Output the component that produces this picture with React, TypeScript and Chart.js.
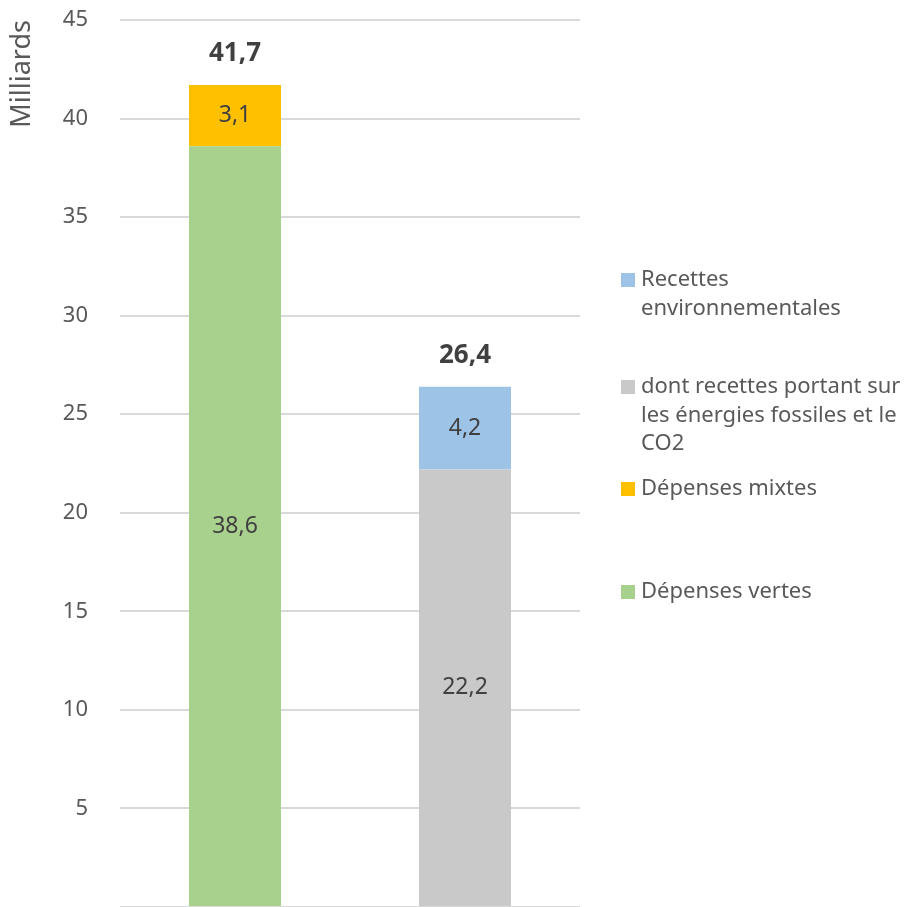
import { useEffect, useRef } from "react";
import { Chart, registerables } from "chart.js";

Chart.register(...registerables);

const categories = ["Dépenses", "Recettes"];
const depensesVertes = [38.6, null];
const depensesMixtes = [3.1, null];
const recettesFossiles = [null, 22.2];
const recettesEnv = [null, 4.2];
const yMax = 45;
const yStep = 5;
const axisTitle = "Milliards";

const legendEntries = [
  { color: "#9DC3E6", lines: ["Recettes", "environnementales"] },
  { color: "#C9C9C9", lines: ["dont recettes portant sur", "les énergies fossiles et le", "CO2"] },
  { color: "#FFC000", lines: ["Dépenses mixtes"] },
  { color: "#A9D18E", lines: ["Dépenses vertes"] },
];

const FONT = "'Noto Sans', sans-serif";
const fmt = (v: number) => v.toFixed(1).replace(".", ",");

const labelsPlugin = {
  id: "valueLabels",
  afterDatasetsDraw(chart: any) {
    const ctx = chart.ctx;
    ctx.save();
    ctx.textAlign = "center";
    ctx.textBaseline = "middle";
    const tops: number[] = [];
    const totals: number[] = [];
    chart.data.datasets.forEach((ds: any, di: number) => {
      const meta = chart.getDatasetMeta(di);
      meta.data.forEach((el: any, i: number) => {
        const v = ds.data[i];
        if (v === null || v === undefined) return;
        totals[i] = (totals[i] || 0) + v;
        tops[i] = tops[i] === undefined ? el.y : Math.min(tops[i], el.y);
        ctx.font = `23px ${FONT}`;
        ctx.fillStyle = "#404040";
        ctx.fillText(fmt(v), el.x, (el.y + el.base) / 2);
      });
    });
    totals.forEach((t, i) => {
      if (t === undefined) return;
      ctx.font = `bold 26px ${FONT}`;
      ctx.fillStyle = "#404040";
      ctx.fillText(fmt(t), chart.scales.x.getPixelForValue(i), tops[i] - 31);
    });
    ctx.restore();
  },
};

const legendY = [280, 387, 489, 592];

const legendPlugin = {
  id: "customLegend",
  afterDraw(chart: any) {
    const ctx = chart.ctx;
    const x0 = chart.chartArea.right + 41;
    ctx.save();
    ctx.font = `22px ${FONT}`;
    ctx.textBaseline = "middle";
    ctx.textAlign = "left";
    legendEntries.forEach((e, i) => {
      const y = legendY[i];
      ctx.fillStyle = e.color;
      ctx.fillRect(x0, y - 7, 14, 14);
      ctx.fillStyle = "#595959";
      e.lines.forEach((ln, j) => {
        ctx.fillText(ln, x0 + 20, y + j * 28.5);
      });
    });
    ctx.restore();
  },
};

export default function App() {
  const ref = useRef<HTMLCanvasElement>(null);
  useEffect(() => {
    if (!ref.current) return;
    const chart = new Chart(ref.current, {
      type: "bar",
      data: {
        labels: categories,
        datasets: [
          { label: "Dépenses vertes", data: depensesVertes, backgroundColor: "#A9D18E" },
          { label: "Dépenses mixtes", data: depensesMixtes, backgroundColor: "#FFC000" },
          { label: "dont recettes portant sur les énergies fossiles et le CO2", data: recettesFossiles, backgroundColor: "#C9C9C9" },
          { label: "Recettes environnementales", data: recettesEnv, backgroundColor: "#9DC3E6" },
        ],
      },
      options: {
        responsive: false,
        animation: false,
        layout: { padding: { top: 20, right: 325, bottom: 53, left: 0 } },
        datasets: { bar: { categoryPercentage: 1, barPercentage: 0.4 } },
        plugins: { legend: { display: false }, tooltip: { enabled: false } },
        scales: {
          x: { stacked: true, display: false, grid: { display: false } },
          y: {
            stacked: true,
            min: 0,
            max: yMax,
            border: { display: false },
            grid: { color: "#D9D9D9", lineWidth: 2, drawTicks: true, tickLength: 29, tickColor: "rgba(0,0,0,0)" },
            ticks: {
              stepSize: yStep,
              padding: 3,
              color: "#595959",
              font: { family: FONT, size: 22 },
              callback: (v: any) => (v === 0 ? "" : String(v)),
            },
            title: {
              display: true,
              text: axisTitle,
              align: "end",
              color: "#595959",
              font: { family: FONT, size: 27 },
              padding: { top: 6, bottom: 0 },
            },
            afterFit: (s: any) => {
              s.width = 120;
            },
          },
        },
      },
      plugins: [labelsPlugin, legendPlugin],
    });
    return () => chart.destroy();
  }, []);
  return (
    <div style={{ position: "fixed", left: 0, top: 0, width: 905, height: 907, overflow: "hidden", background: "#fff" }}>
      <canvas ref={ref} width={905} height={960} style={{ display: "block" }} />
    </div>
  );
}
